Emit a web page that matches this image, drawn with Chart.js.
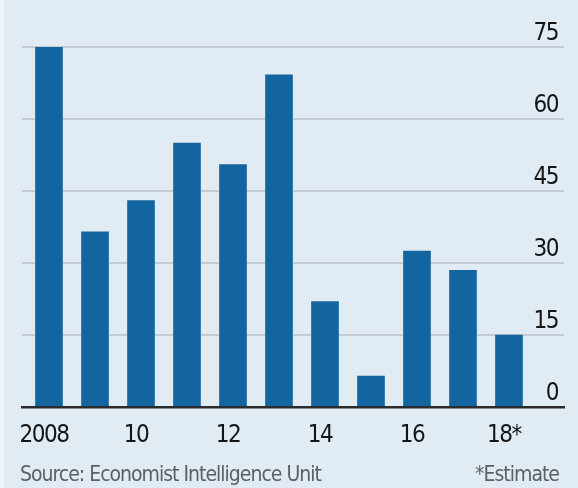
<!DOCTYPE html>
<html>
<head>
<meta charset="utf-8">
<script src="https://cdn.jsdelivr.net/npm/chart.js@4/dist/chart.umd.min.js"></script>
<style>
  html, body { margin: 0; padding: 0; }
  body { width: 578px; height: 488px; background: #e1ebf4; position: relative; overflow: hidden;
         font-family: "DejaVu Sans Condensed", sans-serif; }
  #wrap { position: absolute; left: 0; top: 0; width: 578px; height: 488px; }
  .edge { position: absolute; left: 0; top: 0; width: 4px; height: 488px; background: #edf3f8; }
  .note { position: absolute; top: 464px; font-size: 21px; line-height: 21px; letter-spacing: -1px;
          color: #5b6065; white-space: nowrap; }
  #source { left: 20px; }
  #estimate { right: 19px; }
</style>
</head>
<body>
<div class="edge"></div>
<div id="wrap"><canvas id="chart" width="578" height="488"></canvas></div>
<div class="note" id="source">Source: Economist Intelligence Unit</div>
<div class="note" id="estimate">*Estimate</div>
<script>
// data
const years = [2008, 2009, 2010, 2011, 2012, 2013, 2014, 2015, 2016, 2017, 2018];
const values = [75, 36.5, 43, 55, 50.5, 69.2, 22, 6.5, 32.5, 28.5, 15];
const yearTicks = [2008, 2010, 2012, 2014, 2016, 2018];
const yearLabels = ['2008', '10', '12', '14', '16', '18*'];
const valueTicks = [0, 15, 30, 45, 60, 75];

const FONT = '"DejaVu Sans Condensed", sans-serif';

let points = years.map((y, i) => ({ x: y, y: values[i] }));

// narrower tick text, closer to the condensed face of the original
const tightText = {
  id: 'tightText',
  beforeDraw(c) { c.ctx.letterSpacing = '-1.5px'; }
};

const ctx = document.getElementById('chart').getContext('2d');
let chart = new Chart(ctx, {
  type: 'bar',
  data: {
    datasets: [{
      data: points,
      backgroundColor: '#13659f',
      borderWidth: 0,
      barThickness: 27
    }]
  },
  options: {
    responsive: false,
    animation: false,
    events: [],
    layout: { padding: { left: 22, right: 14, top: 47, bottom: 24 } },
    plugins: { legend: { display: false }, tooltip: { enabled: false } },
    scales: {
      x: {
        type: 'linear',
        offset: false,
        min: 2007.413,
        max: 2019.196,
        afterBuildTicks: axis => { axis.ticks = yearTicks.map(v => ({ value: v })); },
        grid: { display: false, drawTicks: false, offset: false },
        border: { display: true, color: '#2b2b2b', width: 2.5, z: 1 },
        ticks: {
          padding: 14,
          labelOffset: -5,
          maxRotation: 0,
          autoSkip: false,
          color: '#151515',
          font: { family: FONT, size: 24 },
          callback: v => yearLabels[yearTicks.indexOf(v)]
        }
      },
      y: {
        position: 'right',
        min: 0,
        max: 75,
        afterBuildTicks: axis => { axis.ticks = valueTicks.map(v => ({ value: v })); },
        grid: { color: '#c3ccd4', lineWidth: 2, drawTicks: false },
        border: { display: false },
        ticks: {
          mirror: true,
          padding: -6,
          labelOffset: -13,
          color: '#151515',
          font: { family: FONT, size: 24 }
        }
      }
    }
  },
  plugins: [tightText]
});
</script>
</body>
</html>
